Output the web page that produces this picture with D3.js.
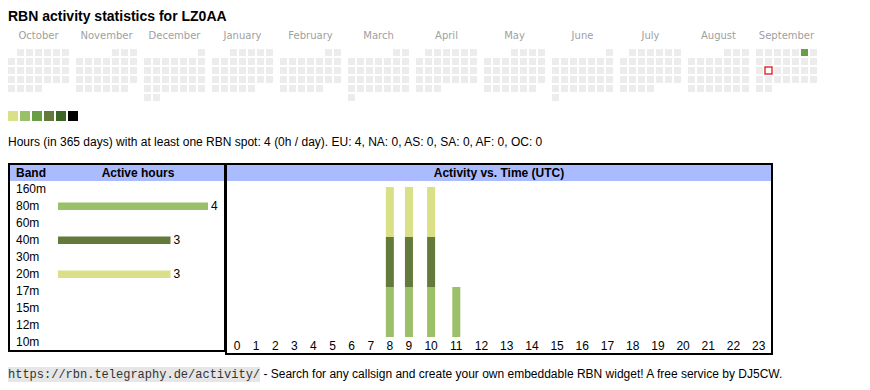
<!DOCTYPE html>
<html>
<head>
<meta charset="utf-8">
<script src="https://cdn.jsdelivr.net/npm/d3@7"></script>
<style>
  html, body { margin: 0; padding: 0; background: #fff; }
  svg { display: block; }
  .sans { font-family: "Liberation Sans", Arial, sans-serif; }
</style>
</head>
<body>
<svg id="chart" width="870" height="390"></svg>
<script>
// ---------------- data ----------------
const callsign = "LZ0AA";
const monthNames = ["October","November","December","January","February","March","April","May","June","July","August","September"];
const periodStart = "2024-10-01";
const periodEnd = "2025-10-01";
const activeDays = ["2025-09-06"];
const activeDayLevels = [2];
const todayDate = "2025-09-16";
const legendLevels = [0, 1, 2, 3, 4, 5];

const bands = ["160m","80m","60m","40m","30m","20m","17m","15m","12m","10m"];
const bandActiveHours = [0, 4, 0, 3, 0, 3, 0, 0, 0, 0];
const hours = d3.range(0, 24);
const hours80m = [8, 9, 10, 11];
const hours40m = [8, 9, 10];
const hours20m = [8, 9, 10];

const summaryText = "Hours (in 365 days) with at least one RBN spot: 4 (0h / day). EU: 4, NA: 0, AS: 0, SA: 0, AF: 0, OC: 0";
const footerUrl = "https://rbn.telegraphy.de/activity/";
const footerText = " - Search for any callsign and create your own embeddable RBN widget! A free service by DJ5CW.";

// ---------------- styles ----------------
const levelColors = ["#d9e088", "#9cc06a", "#6a9e44", "#637a3a", "#3b6524", "#000000"];
const bandColor = d3.scaleOrdinal()
  .domain(["80m", "40m", "20m"])
  .range(["#9cc06a", "#637a3a", "#d9e088"])
  .unknown("#999");
const headerBlue = "#aabbff";
const cellGray = "#ececec";

const svg = d3.select("#chart");

// title
svg.append("text").attr("class", "sans")
  .attr("x", 8).attr("y", 21)
  .attr("font-size", 14).attr("font-weight", "bold")
  .text("RBN activity statistics for " + callsign);

// ---------------- calendar ----------------
const parse = d3.timeParse("%Y-%m-%d");
const fmt = d3.timeFormat("%Y-%m-%d");
const start = parse(periodStart), end = parse(periodEnd);
const days = d3.timeDay.range(start, end);
const months = d3.timeMonth.range(start, end);

const monthX = d3.scaleLinear().domain([0, 12]).range([8, 8 + 68 * 12]);
const colX = d3.scaleLinear().domain([0, 7]).range([0, 63]);
const rowY = d3.scaleLinear().domain([0, 6]).range([49, 49 + 54]);

svg.append("g").selectAll("text").data(months).join("text")
  .attr("x", (d, i) => monthX(i) + colX(3.5) - 1)
  .attr("y", 39)
  .attr("text-anchor", "middle")
  .attr("font-family", "DejaVu Sans, Verdana, sans-serif")
  .attr("font-size", 10)
  .attr("fill", "#a0a0a0")
  .text((d, i) => monthNames[i]);

const activeMap = new Map(activeDays.map((d, i) => [d, activeDayLevels[i]]));
const monthIndex = d => (d.getFullYear() - start.getFullYear()) * 12 + d.getMonth() - start.getMonth();
const col = d => (d.getDay() + 6) % 7;
const row = d => d3.timeMonday.count(d3.timeMonth.floor(d), d);

svg.append("g").selectAll("rect").data(days).join("rect")
  .attr("x", d => monthX(monthIndex(d)) + colX(col(d)))
  .attr("y", d => rowY(row(d)))
  .attr("width", 7).attr("height", 7)
  .attr("fill", d => {
    const k = fmt(d);
    if (k === todayDate) return "#fff";
    return activeMap.has(k) ? levelColors[activeMap.get(k)] : cellGray;
  })
  .attr("stroke", d => fmt(d) === todayDate ? "#e00000" : "none")
  .attr("stroke-width", 1.2);

// legend
const legendX = d3.scaleLinear().domain([0, 6]).range([8, 80]);
svg.append("g").selectAll("rect").data(legendLevels).join("rect")
  .attr("x", d => legendX(d)).attr("y", 111)
  .attr("width", 10).attr("height", 10)
  .attr("fill", d => levelColors[d]);

// summary text
svg.append("text").attr("class", "sans")
  .attr("x", 8).attr("y", 146)
  .attr("font-size", 12)
  .text(summaryText);

// ---------------- band table ----------------
const tbl = svg.append("g");
tbl.append("rect").attr("x", 9).attr("y", 164).attr("width", 216).attr("height", 187)
  .attr("fill", "#fff").attr("stroke", "#000").attr("stroke-width", 2);
tbl.append("rect").attr("x", 10).attr("y", 165).attr("width", 214).attr("height", 16)
  .attr("fill", headerBlue);
tbl.append("text").attr("class", "sans").attr("x", 16).attr("y", 177)
  .attr("font-size", 12).attr("font-weight", "bold").text("Band");
tbl.append("text").attr("class", "sans").attr("x", 138).attr("y", 177)
  .attr("text-anchor", "middle")
  .attr("font-size", 12).attr("font-weight", "bold").text("Active hours");

const bandY = d3.scalePoint().domain(bands).range([193, 346]);
const hoursX = d3.scaleLinear().domain([0, 4]).range([58, 208]);

tbl.selectAll("text.band").data(bands).join("text")
  .attr("class", "band sans")
  .attr("x", 16).attr("y", d => bandY(d))
  .attr("font-size", 12)
  .text(d => d);

const bandRows = bands.map((b, i) => ({ band: b, value: bandActiveHours[i] })).filter(d => d.value > 0);
tbl.selectAll("rect.bar").data(bandRows).join("rect")
  .attr("class", "bar")
  .attr("x", hoursX(0))
  .attr("y", d => bandY(d.band) - 7.5)
  .attr("width", d => hoursX(d.value) - hoursX(0))
  .attr("height", 7.5)
  .attr("fill", d => bandColor(d.band));
tbl.selectAll("text.val").data(bandRows).join("text")
  .attr("class", "val sans")
  .attr("x", d => hoursX(d.value) + 3)
  .attr("y", d => bandY(d.band))
  .attr("font-size", 12)
  .text(d => d.value);

// ---------------- activity vs time ----------------
const act = svg.append("g");
act.append("rect").attr("x", 226).attr("y", 164).attr("width", 546).attr("height", 190)
  .attr("fill", "#fff").attr("stroke", "#000").attr("stroke-width", 2);
act.append("rect").attr("x", 227).attr("y", 165).attr("width", 544).attr("height", 16)
  .attr("fill", headerBlue);
act.append("text").attr("class", "sans").attr("x", 499).attr("y", 177)
  .attr("text-anchor", "middle")
  .attr("font-size", 12).attr("font-weight", "bold").text("Activity vs. Time (UTC)");

// column widths follow label widths (table-like layout)
const colWidth = h => 13 + 6.1 * String(h).length;
let acc = 227.5;
const centers = hours.map(h => { const c = acc + colWidth(h) / 2; acc += colWidth(h); return c; });
const hourX = d3.scaleOrdinal().domain(hours).range(centers);
const countY = d3.scaleLinear().domain([0, 3]).range([337, 187]);

act.selectAll("text.hour").data(hours).join("text")
  .attr("class", "hour sans")
  .attr("x", d => hourX(d)).attr("y", 350)
  .attr("text-anchor", "middle")
  .attr("font-size", 12)
  .text(d => d);

const bandHourLists = { "80m": hours80m, "40m": hours40m, "20m": hours20m };
const stackBands = bands.filter(b => bandHourLists[b]);
const table = hours.map(h => {
  const o = { hour: h };
  stackBands.forEach(b => { o[b] = bandHourLists[b].includes(h) ? 1 : 0; });
  return o;
});
const series = d3.stack().keys(stackBands)(table);

act.selectAll("g.series").data(series).join("g")
  .attr("class", "series")
  .attr("fill", d => bandColor(d.key))
  .selectAll("rect").data(d => d.filter(p => p[1] > p[0])).join("rect")
  .attr("x", d => hourX(d.data.hour) - 4)
  .attr("width", 8)
  .attr("y", d => countY(d[1]))
  .attr("height", d => countY(d[0]) - countY(d[1]));

// ---------------- footer ----------------
const footer = svg.append("g");
const urlBg = footer.append("rect").attr("x", 8).attr("y", 367).attr("height", 15)
  .attr("fill", "#e6e6e6");
const urlText = footer.append("text")
  .attr("x", 8).attr("y", 378)
  .attr("font-family", "Liberation Mono, Courier New, monospace")
  .attr("font-size", 12)
  .attr("fill", "#333")
  .text(footerUrl);
const uw = urlText.node().getComputedTextLength();
urlBg.attr("width", uw);
footer.append("text").attr("class", "sans")
  .attr("x", 8 + uw).attr("y", 378)
  .attr("font-size", 12)
  .style("white-space", "pre")
  .text(footerText);
</script>
</body>
</html>
